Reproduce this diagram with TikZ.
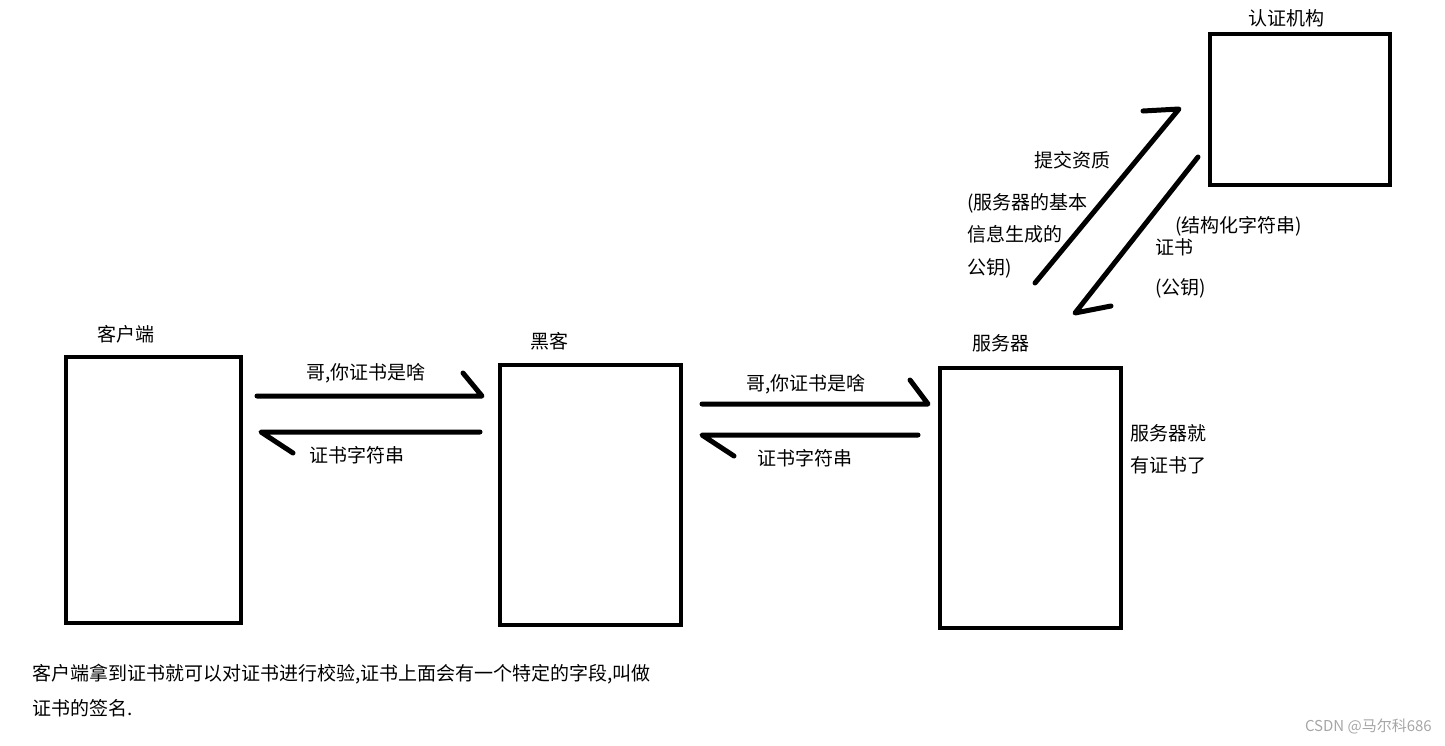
\documentclass[tikz,border=0pt]{standalone}
\usepackage{fontspec}
\setmainfont{Noto Sans CJK SC}
\usetikzlibrary{positioning}

\tikzset{
  box/.style={draw, line width=4.5pt, inner sep=0pt},
  paint/.style={line width=5pt, line cap=round, line join=round},
  lbl/.style={font=\fontsize{19}{32.5}\selectfont, inner sep=0pt},
}

\begin{document}
\begin{tikzpicture}[x=1pt, y=-1pt]
    \useasboundingbox (0,0) rectangle (1445,745);

    % Boxes
    \node[box, minimum width=175pt, minimum height=266pt] (client) at (153.5,490) {};
    \node[box, minimum width=181pt, minimum height=260pt] (hacker) at (590.5,495) {};
    \node[box, minimum width=181pt, minimum height=260pt] (server) at (1030.5,498) {};
    \node[box, minimum width=180pt, minimum height=151pt] (ca) at (1300,109.5) {};

    % Box titles
    \node[lbl] (clientname) at (126,334) {客户端};
    \node[lbl] (hackername) at (549,341) {黑客};
    \node[lbl] (servername) at (1001,343) {服务器};
    \node[lbl] (caname) at (1286,18) {认证机构};

    % Arrow ends
    \coordinate (ch1) at (257,396);  \coordinate (ch2) at (482,396);
    \coordinate (hc1) at (480,432);  \coordinate (hc2) at (261,432);
    \coordinate (hs1) at (702,404);  \coordinate (hs2) at (928,404);
    \coordinate (sh1) at (918,435);  \coordinate (sh2) at (702,435);
    \coordinate (sa1) at (1035,283); \coordinate (sa2) at (1179,109);
    \coordinate (as1) at (1198,157); \coordinate (as2) at (1075,313);

    % Arrows (hand drawn half heads)
    \draw[paint] (ch1) -- (ch2) -- ++(-19,-23);
    \draw[paint] (hc1) -- (hc2) -- ++(32,21);
    \draw[paint] (hs1) -- (hs2) -- ++(-18,-24);
    \draw[paint] (sh1) -- (sh2) -- ++(32,21);
    \draw[paint] (sa1) -- (sa2) -- ++(-36,2);
    \draw[paint] (as1) -- (as2) -- ++(36,-7);

    % Arrow labels
    \node[lbl] (ask1) at (366,373) {哥,你证书是啥};
    \node[lbl] (cert1) at (357,455) {证书字符串};
    \node[lbl] (ask2) at (806,384) {哥,你证书是啥};
    \node[lbl] (cert2) at (805,458) {证书字符串};
    \node[lbl] (submit) at (1072,160) {提交资质};
    \node[lbl, anchor=north west, align=left] (info) at (967,193)
        {(服务器的基本\\信息生成的\\公钥)};
    \node[lbl, anchor=west] (struct) at (1175,226) {(结构化字符串)};
    \node[lbl, anchor=west] (certca) at (1155,247) {证书};
    \node[lbl, anchor=west] (pubkey) at (1155,288) {(公钥)};
    \node[lbl, anchor=north west, align=left] (hascert) at (1130,424)
        {服务器就\\有证书了};

    % Note
    \node[lbl, font=\fontsize{19}{35}\selectfont, anchor=north west, align=left] (note) at (32,664)
        {客户端拿到证书就可以对证书进行校验,证书上面会有一个特定的字段,叫做\\证书的签名.};
    \node[lbl, font=\fontsize{15}{18}\selectfont, text=gray!70, anchor=east] (mark) at (1432,726)
        {CSDN @马尔科686};
\end{tikzpicture}
\end{document}
